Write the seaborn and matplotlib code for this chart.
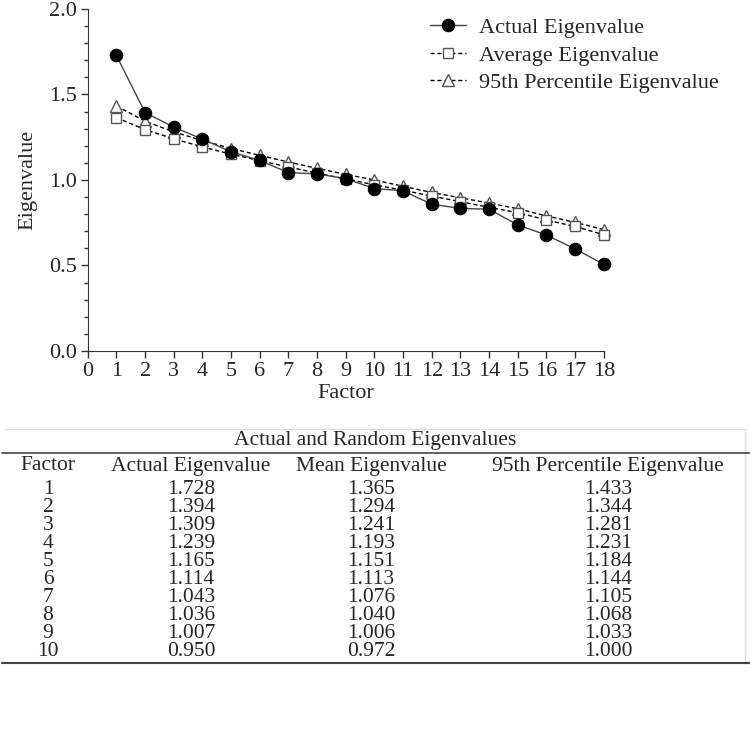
import numpy as np
import pandas as pd
import seaborn as sns
import matplotlib.pyplot as plt
from matplotlib.ticker import MultipleLocator

factors = list(range(1, 19))
actual = [1.728, 1.394, 1.309, 1.239, 1.165, 1.114, 1.043, 1.036, 1.007, 0.950,
          0.937, 0.858, 0.834, 0.829, 0.737, 0.678, 0.597, 0.507]
mean_eig = [1.365, 1.294, 1.241, 1.193, 1.151, 1.113, 1.076, 1.040, 1.006, 0.972,
            0.940, 0.906, 0.873, 0.840, 0.809, 0.766, 0.728, 0.680]
p95 = [1.433, 1.344, 1.281, 1.231, 1.184, 1.144, 1.105, 1.068, 1.033, 1.000,
       0.963, 0.927, 0.896, 0.865, 0.832, 0.790, 0.752, 0.710]

table_title = "Actual and Random Eigenvalues"
table_cols = ["Factor", "Actual Eigenvalue", "Mean Eigenvalue", "95th Percentile Eigenvalue"]
n_table_rows = 10

sns.set_style("ticks")
plt.rcParams['font.family'] = ['Liberation Serif', 'DejaVu Serif']

fig = plt.figure(figsize=(7.5, 7.54), dpi=100)
ax = fig.add_axes([0.117, 0.5345, 0.688, 0.4536])

df = pd.DataFrame({"Factor": factors, "Actual": actual, "Mean": mean_eig, "P95": p95})

# random eigenvalues first so the actual line sits on top
sns.lineplot(data=df, x="Factor", y="P95", ax=ax, color="black", linewidth=1,
             linestyle=(0, (3, 2)), marker="^", markersize=8,
             markerfacecolor="white", markeredgecolor="#555555", markeredgewidth=1,
             label="95th Percentile Eigenvalue", clip_on=False)
sns.lineplot(data=df, x="Factor", y="Mean", ax=ax, color="black", linewidth=1,
             linestyle=(0, (3, 2)), marker="s", markersize=7.5,
             markerfacecolor="white", markeredgecolor="#555555", markeredgewidth=1,
             label="Average Eigenvalue", clip_on=False)
sns.lineplot(data=df, x="Factor", y="Actual", ax=ax, color="#444444", linewidth=1,
             marker="o", markersize=9, markerfacecolor="black",
             markeredgecolor="black", label="Actual Eigenvalue", clip_on=False)

ax.set_xlim(0, 18)
ax.set_ylim(0, 2.0)
ax.set_xticks(range(0, 19))
ax.yaxis.set_major_locator(MultipleLocator(0.5))
ax.yaxis.set_minor_locator(MultipleLocator(0.1))
ax.yaxis.set_major_formatter(plt.FormatStrFormatter("%.1f"))
ax.tick_params(axis="both", which="major", labelsize=16, length=5, width=1,
               color="#333333", pad=3)
ax.tick_params(axis="y", which="minor", length=3, width=1, color="#333333")
ax.set_xlabel("Factor", fontsize=16, labelpad=2)
ax.set_ylabel("Eigenvalue", fontsize=16, labelpad=8)
sns.despine(ax=ax)
for s in ["left", "bottom"]:
    ax.spines[s].set_color("#333333")

h, l = ax.get_legend_handles_labels()
ax.legend(h[::-1], l[::-1], loc="upper right", bbox_to_anchor=(1.262, 1.034),
          frameon=False, fontsize=16, handlelength=1.6, labelspacing=0.32,
          handletextpad=0.6)

# table underneath
tax = fig.add_axes([0, 0, 1, 1])
tax.set_xlim(0, 750)
tax.set_ylim(754, 0)
tax.axis("off")

col_x = [48, 191, 371, 608]
fs = 15.5
tax.plot([5, 745], [429, 429], color="#dddddd", lw=1)
tax.plot([745, 745], [429, 664], color="#dddddd", lw=1)
tax.text(375, 441, table_title, ha="center", va="center", fontsize=fs)
tax.plot([2, 750], [453, 453], color="#444444", lw=1.2)
for x, c in zip(col_x, table_cols):
    tax.text(x, 466, c, ha="center", va="center", fontsize=fs)
row_y = 489
step = 18.1
for i in range(n_table_rows):
    y = row_y + i * step
    vals = [str(factors[i]), "%.3f" % actual[i], "%.3f" % mean_eig[i], "%.3f" % p95[i]]
    for x, v in zip(col_x, vals):
        tax.text(x, y, v, ha="center", va="center", fontsize=fs)
tax.plot([2, 750], [663, 663], color="#444444", lw=1.5)

fig.savefig("out.png", dpi=100)
